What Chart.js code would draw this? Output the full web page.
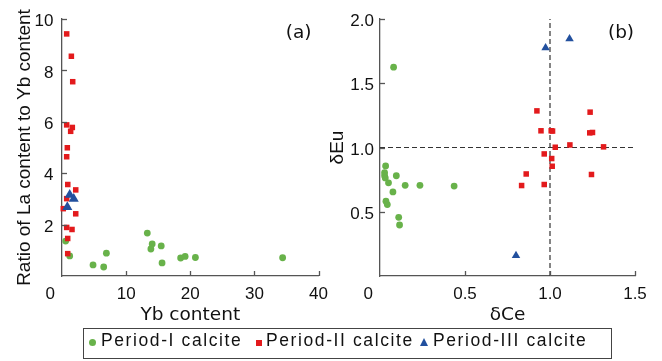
<!DOCTYPE html>
<html>
<head>
<meta charset="utf-8">
<script src="https://cdn.jsdelivr.net/npm/chart.js@4.4.0/dist/chart.umd.min.js"></script>
<style>
html,body{margin:0;padding:0;background:#fff;width:662px;height:361px;overflow:hidden;}
#wa{position:absolute;left:0;top:0;width:336px;height:330px;}
#wb{position:absolute;left:320px;top:0;width:342px;height:330px;}
#legend{position:absolute;left:83px;top:328px;width:529px;height:31px;border:1.2px solid #444;box-sizing:border-box;
  font-family:"Liberation Sans",Arial,sans-serif;font-size:17.5px;letter-spacing:1.6px;color:#111;}
#legend .t{position:absolute;top:1px;line-height:20px;white-space:nowrap;}
#legend .m{position:absolute;}
</style>
</head>
<body>
<div id="wa"><canvas id="ca" width="336" height="330"></canvas></div>
<div id="wb"><canvas id="cb" width="342" height="330"></canvas></div>
<div id="legend">
  <span class="m" style="left:5px;top:10px;width:7px;height:7px;border-radius:50%;background:#68b24a;"></span>
  <span class="t" style="left:17px;">Period-I calcite</span>
  <span class="m" style="left:172px;top:11px;width:5.5px;height:5.5px;background:#e31a1c;"></span>
  <span class="t" style="left:182px;">Period-II calcite</span>
  <span class="m" style="left:336px;top:8.5px;width:0;height:0;border-left:4.6px solid transparent;border-right:4.6px solid transparent;border-bottom:8.5px solid #22509e;"></span>
  <span class="t" style="left:349px;">Period-III calcite</span>
</div>
<script>
// ---------- Panel (a): Yb content vs La/Yb ----------
const seriesNames = ['Period-I calcite', 'Period-II calcite', 'Period-III calcite'];
const ybI   = [0.57, 1.2, 4.84, 6.5, 6.92, 13.3, 14.06, 13.86, 15.47, 15.6, 18.5, 19.2, 20.8, 34.4];
const laybI = [1.36, 0.78, 0.43, 0.35, 0.89, 1.67, 1.25, 1.05, 1.17, 0.51, 0.70, 0.76, 0.72, 0.71];
const ybII   = [0.73, 1.46, 1.67, 0.73, 1.61, 1.35, 0.83, 0.73, 0.9, 2.14, 0.73, 0.2, 2.14, 0.73, 1.56, 0.89, 0.89];
const laybII = [9.42, 8.55, 7.56, 5.88, 5.78, 5.63, 4.99, 4.64, 3.56, 3.35, 3.01, 2.62, 2.42, 1.89, 1.81, 1.46, 0.87];
const ybIII   = [1.2, 1.83, 0.83];
const laybIII = [3.16, 3.0, 2.68];
const xTicksA = [0, 10, 20, 30, 40];
const yTicksA = [2, 4, 6, 8, 10];

// ---------- Panel (b): δCe vs δEu ----------
const ceI = [0.08, 0.033, 0.027, 0.027, 0.031, 0.096, 0.05, 0.148, 0.235, 0.436, 0.076, 0.035, 0.043, 0.11, 0.115];
const euI = [1.625, 0.857, 0.805, 0.78, 0.763, 0.78, 0.725, 0.706, 0.706, 0.70, 0.654, 0.582, 0.556, 0.457, 0.397];
const ceII = [0.923, 1.236, 0.947, 1.007, 1.015, 1.234, 1.25, 1.031, 1.117, 1.315, 0.966, 1.01, 1.013, 0.86, 1.244, 0.833, 0.966];
const euII = [1.285, 1.275, 1.13, 1.13, 1.128, 1.114, 1.117, 1.002, 1.02, 1.005, 0.95, 0.914, 0.854, 0.794, 0.79, 0.704, 0.712];
const ceIII = [0.974, 1.115, 0.80];
const euIII = [1.776, 1.846, 0.159];
const refCe = 1.0;
const refEu = 1.0;
const xTicksB = [0, 0.5, 1.0, 1.5];
const yTicksB = [0.5, 1.0, 1.5, 2.0];

const GREEN = '#68b24a', RED = '#e31a1c', BLUE = '#22509e', AXIS = '#555';
const zip = (xs, ys) => xs.map((x, i) => ({x, y: ys[i]}));

const tickFont = {family: '"Liberation Sans", Arial, sans-serif', size: 17};
const titleFontH = {family: '"DejaVu Sans", sans-serif', size: 18.5};
const titleFontV = {family: '"Liberation Sans", Arial, sans-serif', size: 19};

const inwardTicks = {
  id: 'inwardTicks',
  afterDraw(chart, args, o) {
    const {ctx, chartArea: ca, scales: {x, y}} = chart;
    ctx.save();
    ctx.strokeStyle = AXIS; ctx.lineWidth = 1.3;
    x.ticks.forEach(t => {
      if (t.value === x.min) return;
      const px = Math.round(x.getPixelForValue(t.value)) + 0.5;
      ctx.beginPath(); ctx.moveTo(px, ca.bottom); ctx.lineTo(px, ca.bottom - 5); ctx.stroke();
    });
    y.ticks.forEach(t => {
      if (t.value === y.min) return;
      const py = Math.round(y.getPixelForValue(t.value)) + 0.5;
      ctx.beginPath(); ctx.moveTo(ca.left, py); ctx.lineTo(ca.left + 5, py); ctx.stroke();
    });
    ctx.fillStyle = '#111';
    ctx.font = '18.5px "DejaVu Sans", sans-serif';
    ctx.textAlign = 'center'; ctx.textBaseline = 'middle';
    ctx.fillText(o.label, ca.right - o.dx, ca.top + o.dy);
    ctx.restore();
  }
};

function makeScales(xMin, xMax, xStep, yMin, yMax, yStep, xTitle, yTitle, yWidth, xHeight, yPad, yTitlePad, fmt) {
  return {
    x: {
      type: 'linear', min: xMin, max: xMax,
      afterFit: s => { s.height = xHeight; },
      afterBuildTicks: s => { s.ticks = (xStep).map(v => ({value: v})); },
      grid: {display: false, drawTicks: false},
      border: {display: true, color: AXIS, width: 1.3},
      ticks: {font: tickFont, color: '#111', padding: 8, maxRotation: 0,
        callback: v => v === 0 ? '0     ' : fmt(v)},
      title: {display: true, text: xTitle, font: titleFontH, color: '#111', padding: {top: 0, bottom: 3.7}}
    },
    y: {
      type: 'linear', min: yMin, max: yMax,
      afterFit: s => { s.width = yWidth; },
      afterBuildTicks: s => { s.ticks = [0].concat(yStep).map(v => ({value: v})); },
      grid: {display: false, drawTicks: false},
      border: {display: true, color: AXIS, width: 1.3},
      ticks: {font: tickFont, color: '#111', padding: yPad, labelOffset: 2.5,
        callback: v => v === 0 ? '' : fmt(v)},
      title: {display: true, text: yTitle, font: titleFontV, color: '#111', padding: {top: yTitlePad, bottom: 0}}
    }
  };
}

function ds(label, data, color, style, radius, order) {
  return {type: 'scatter', label, data, backgroundColor: color, borderColor: color, borderWidth: 0,
    pointStyle: style, pointRadius: radius, pointHoverRadius: radius, order, clip: false};
}

new Chart(document.getElementById('ca'), {
  type: 'scatter',
  data: {datasets: [
    ds(seriesNames[0], zip(ybI, laybI), GREEN, 'circle', 3.4, 2),
    ds(seriesNames[1], zip(ybII, laybII), RED, 'rect', 3.9, 1),
    ds(seriesNames[2], zip(ybIII, laybIII), BLUE, 'triangle', 5.8, 0)
  ]},
  options: {
    responsive: false, animation: false, events: [],
    layout: {padding: {top: 19, right: 0, left: 0, bottom: 0}},
    plugins: {legend: {display: false}, tooltip: {enabled: false},
      inwardTicks: {label: '(a)', dx: 20, dy: 14.5}},
    scales: makeScales(0, 40, xTicksA, 0, 10, yTicksA, 'Yb content', 'Ratio of La content to Yb content',
      62, 54, 8.5, 13.6, v => String(v))
  },
  plugins: [inwardTicks]
});

new Chart(document.getElementById('cb'), {
  type: 'scatter',
  data: {datasets: [
    ds(seriesNames[0], zip(ceI, euI), GREEN, 'circle', 3.4, 2),
    ds(seriesNames[1], zip(ceII, euII), RED, 'rect', 3.9, 1),
    ds(seriesNames[2], zip(ceIII, euIII), BLUE, 'triangle', 4.9, 0),
    {type: 'line', label: 'ref-ce', data: [{x: refCe, y: 0}, {x: refCe, y: 2}], borderColor: '#333', borderWidth: 1.2,
      borderDash: [5, 3], pointRadius: 0, showLine: true, fill: false, order: 5},
    {type: 'line', label: 'ref-eu', data: [{x: 0, y: refEu}, {x: 1.5, y: refEu}], borderColor: '#333', borderWidth: 1.2,
      borderDash: [5, 3], pointRadius: 0, showLine: true, fill: false, order: 5}
  ]},
  options: {
    responsive: false, animation: false, events: [],
    layout: {padding: {top: 19, right: 27, left: 0, bottom: 0}},
    plugins: {legend: {display: false}, tooltip: {enabled: false},
      inwardTicks: {label: '(b)', dx: 14, dy: 14.5}},
    scales: makeScales(0, 1.5, xTicksB, 0, 2, yTicksB, 'δCe', 'δEu',
      60, 54, 6, 5.9, v => v.toFixed(1))
  },
  plugins: [inwardTicks]
});
</script>
</body>
</html>
